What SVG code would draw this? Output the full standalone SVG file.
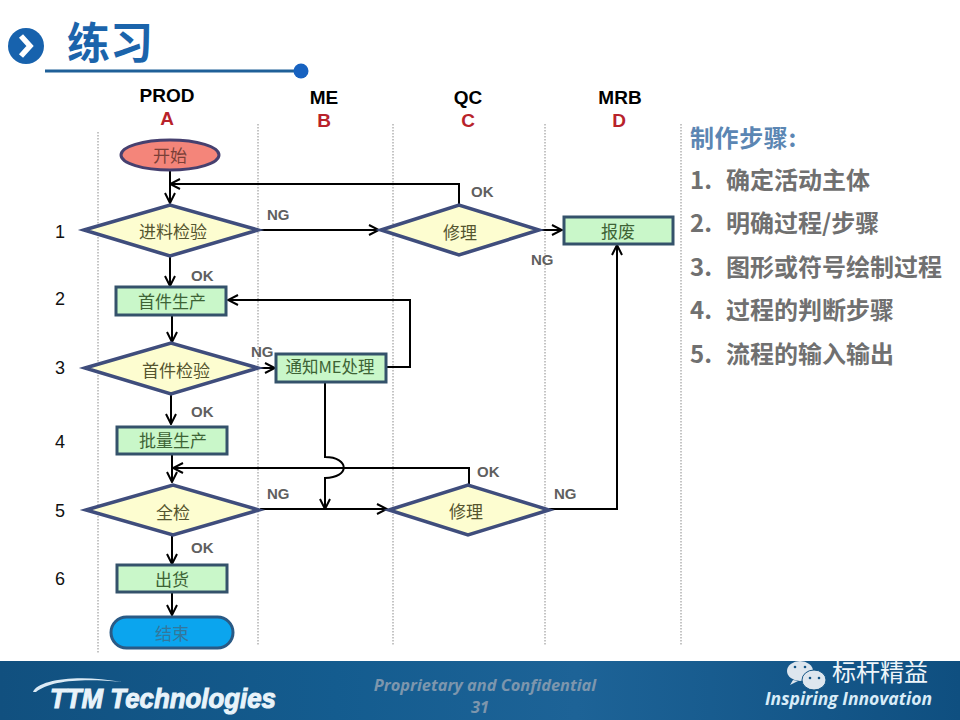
<svg xmlns="http://www.w3.org/2000/svg" width="960" height="720" viewBox="0 0 960 720">
<style>
.lat{font-family:"Liberation Sans",Arial,sans-serif}
.cjk{font-family:"Noto Sans CJK SC","Liberation Sans",sans-serif}
.ser{font-family:"Noto Sans CJK SC",sans-serif;font-size:17px;text-anchor:middle;dominant-baseline:central;transform:translateY(-1px)}
.dash{stroke:#8a8a8a;stroke-width:1;stroke-dasharray:1.5 1.5;fill:none}
.box{fill:#c9f7c9;stroke:#34526b;stroke-width:3}
.dia{fill:#fdfdd0;stroke:#3f4d7c;stroke-width:3.5;stroke-linejoin:miter}
.c{fill:none;stroke:#000;stroke-width:2}
.h{font-family:"Liberation Sans",Arial,sans-serif;font-weight:700;font-size:19px;text-anchor:middle;fill:#000}
.ltr{font-family:"Liberation Sans",Arial,sans-serif;font-weight:700;font-size:19px;text-anchor:middle;fill:#b8222a}
.tag{font-family:"Liberation Sans",Arial,sans-serif;font-weight:700;font-size:15px;fill:#5f5f5f}
.num{font-family:"Liberation Sans",Arial,sans-serif;font-size:18px;fill:#111;text-anchor:middle}
.step{font-family:"Noto Sans CJK SC","Liberation Sans",sans-serif;font-weight:700;font-size:24px;fill:#707070}
.foot{font-family:"Open Sans",sans-serif;font-size:16.4px;font-weight:700;font-style:italic;fill:#7d96ad;text-anchor:middle}
</style>
<defs>
<marker id="a" viewBox="0 0 12 12" refX="11" refY="6" markerWidth="12" markerHeight="12" markerUnits="userSpaceOnUse" orient="auto"><path d="M1 1L11 6L1 11" fill="none" stroke="#000" stroke-width="2"/></marker>
<linearGradient id="foot" x1="0" x2="1" y1="0" y2="0"><stop offset="0" stop-color="#11507f"/><stop offset=".35" stop-color="#145c8f"/><stop offset=".6" stop-color="#1d6397"/><stop offset="1" stop-color="#0f4f80"/></linearGradient>
</defs>
<rect width="960" height="720" fill="#fff"/>
<g id="header">
<circle cx="26" cy="46" r="18" fill="#1762ad"/>
<path d="M21 36L30 46L21 56" fill="none" stroke="#fff" stroke-width="5.5"/>
<text x="67" y="59" class="cjk" font-size="43" font-weight="700" fill="#1b64ab">练习</text>
<line x1="45" y1="71" x2="298" y2="71" stroke="#1f6098" stroke-width="3"/>
<circle cx="301" cy="71" r="7.5" fill="#1762c0"/>
</g>
<g id="lanes">
<line class="dash" x1="98" y1="132" x2="98" y2="654"/>
<line class="dash" x1="258" y1="124" x2="258" y2="646"/>
<line class="dash" x1="393" y1="124" x2="393" y2="646"/>
<line class="dash" x1="545" y1="124" x2="545" y2="646"/>
<line class="dash" x1="681" y1="124" x2="681" y2="646"/>
<text class="h" x="167" y="102">PROD</text><text class="ltr" x="167" y="125">A</text>
<text class="h" x="324" y="104">ME</text><text class="ltr" x="324" y="127">B</text>
<text class="h" x="468" y="104">QC</text><text class="ltr" x="468" y="127">C</text>
<text class="h" x="620" y="104">MRB</text><text class="ltr" x="619" y="127">D</text>
<text class="num" x="60" y="238">1</text><text class="num" x="60" y="305">2</text><text class="num" x="60" y="374">3</text><text class="num" x="60" y="448">4</text><text class="num" x="60" y="517">5</text><text class="num" x="60" y="585">6</text>
</g>
<g id="connectors">
<path class="c" d="M170 169V203" marker-end="url(#a)"/>
<path class="c" d="M459 205V184H170" marker-end="url(#a)"/>
<path class="c" d="M258 230H379" marker-end="url(#a)"/>
<path class="c" d="M540 230H562" marker-end="url(#a)"/>
<path class="c" d="M170 256V286" marker-end="url(#a)"/>
<path class="c" d="M172 315V342" marker-end="url(#a)"/>
<path class="c" d="M386 367H410V300H228" marker-end="url(#a)"/>
<path class="c" d="M258 368H275" marker-end="url(#a)"/>
<path class="c" d="M171 394V424" marker-end="url(#a)"/>
<path class="c" d="M172 454V482" marker-end="url(#a)"/>
<path class="c" d="M469 485V468H173" marker-end="url(#a)"/>
<path class="c" d="M325 381V457C350 457 350 478 325 478V509" marker-end="url(#a)"/>
<path class="c" d="M260 509H387" marker-end="url(#a)"/>
<path class="c" d="M549 509H617V245" marker-end="url(#a)"/>
<path class="c" d="M172 536V564" marker-end="url(#a)"/>
<path class="c" d="M172 592V615" marker-end="url(#a)"/>
</g>
<g id="start"><ellipse cx="170" cy="155" rx="49" ry="15" fill="#f4857a" stroke="#46406f" stroke-width="3"/><text class="ser" x="170" y="155" fill="#7b4038">开始</text></g>
<g id="n1"><path class="dia" d="M84 230L170 205L258 230L170 256Z"/><text class="ser" x="173" y="231" fill="#55552f">进料检验</text></g>
<g id="n2"><rect class="box" x="116" y="287" width="110" height="28"/><text class="ser" x="172" y="301" fill="#3d6335">首件生产</text></g>
<g id="n3"><path class="dia" d="M85 368L171 343L258 368L171 394Z"/><text class="ser" x="176" y="370" fill="#55552f">首件检验</text></g>
<g id="n3b"><rect class="box" x="276" y="354" width="110" height="28"/><text class="ser" x="330" y="367" fill="#3d6335" style="font-size:16.5px">通知ME处理</text></g>
<g id="n4"><rect class="box" x="117" y="427" width="110" height="27"/><text class="ser" x="173" y="440" fill="#3d6335">批量生产</text></g>
<g id="n5"><path class="dia" d="M86 510L173 485L259 510L173 535Z"/><text class="ser" x="173" y="512" fill="#55552f">全检</text></g>
<g id="n6"><rect class="box" x="117" y="565" width="110" height="27"/><text class="ser" x="172" y="579" fill="#3d6335">出货</text></g>
<g id="end"><rect x="111" y="617" width="122" height="31" rx="15.5" fill="#0ba5ee" stroke="#2a5a85" stroke-width="3"/><text class="ser" x="172" y="633" fill="#33779c">结束</text></g>
<g id="qc1"><path class="dia" d="M381 230L459 205L539 230L459 255Z"/><text class="ser" x="460" y="232" fill="#55552f">修理</text></g>
<g id="scrap"><rect class="box" x="564" y="217" width="109" height="27"/><text class="ser" x="618" y="231" fill="#3d6335">报废</text></g>
<g id="qc2"><path class="dia" d="M389 510L468 485L549 510L468 535Z"/><text class="ser" x="466" y="511" fill="#55552f">修理</text></g>
<g id="labels">
<text class="tag" x="267" y="220">NG</text><text class="tag" x="191" y="281">OK</text><text class="tag" x="471" y="197">OK</text><text class="tag" x="531" y="265">NG</text>
<text class="tag" x="251" y="357">NG</text><text class="tag" x="191" y="417">OK</text><text class="tag" x="477" y="477">OK</text><text class="tag" x="267" y="499">NG</text><text class="tag" x="554" y="499">NG</text><text class="tag" x="191" y="553">OK</text>
</g>
<g id="steps">
<text class="cjk" x="690" y="147" font-size="24" font-weight="700" fill="#5b86b3" letter-spacing="0.6">制作步骤:</text>
<text class="step" x="690" y="189">1.<tspan x="726">确定活动主体</tspan></text>
<text class="step" x="690" y="232">2.<tspan x="726">明确过程/步骤</tspan></text>
<text class="step" x="690" y="276">3.<tspan x="726">图形或符号绘制过程</tspan></text>
<text class="step" x="690" y="319">4.<tspan x="726">过程的判断步骤</tspan></text>
<text class="step" x="690" y="363">5.<tspan x="726">流程的输入输出</tspan></text>
</g>
<g id="footer">
<rect x="0" y="661" width="960" height="59" fill="url(#foot)"/>
<path d="M33 692C38 679 80 674 122 682C85 678 50 680 36 692Z" fill="#dbeaf5"/>
<text x="50" y="708" class="lat" font-size="27" font-weight="700" font-style="italic" fill="#e8f3fa" stroke="#e8f3fa" stroke-width="1" textLength="226" lengthAdjust="spacingAndGlyphs">TTM Technologies</text>
<text x="485" y="691" class="foot">Proprietary and Confidential</text>
<text x="480" y="713" class="foot">31</text>
<ellipse cx="800" cy="671" rx="13" ry="10" fill="#dde6ee"/>
<path d="M793 680L790 685L798 681Z" fill="#dde6ee"/>
<ellipse cx="814" cy="680" rx="12" ry="10" fill="#dde6ee" stroke="#135585" stroke-width="1"/>
<circle cx="795" cy="667" r="1.3" fill="#135585"/><circle cx="805" cy="667" r="1.3" fill="#135585"/><circle cx="810" cy="678" r="1.3" fill="#135585"/><circle cx="819" cy="678" r="1.3" fill="#135585"/>
<text x="832" y="681" class="cjk" font-size="24" fill="#eef5fa" textLength="96">标杆精益</text>
<text x="765" y="705" font-family="'Open Sans',sans-serif" font-size="17" font-weight="700" font-style="italic" fill="#d8ecf8" textLength="167" lengthAdjust="spacingAndGlyphs">Inspiring Innovation</text>
</g>
</svg>
